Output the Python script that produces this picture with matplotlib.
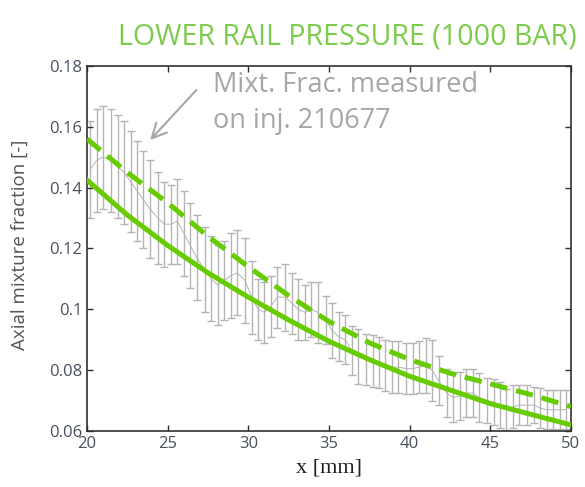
import numpy as np
import matplotlib.pyplot as plt

# Measured mixture fraction (mean and half-width of error bar)
x_meas = [20.2, 20.6, 21.0, 21.5, 21.9, 22.3, 22.7, 23.1, 23.5, 23.9,
          24.4, 24.8, 25.2, 25.6, 26.0, 26.4, 26.8, 27.3, 27.7, 28.1,
          28.5, 28.9, 29.3, 29.8, 30.2, 30.6, 31.0, 31.4, 31.8, 32.3,
          32.7, 33.1, 33.5, 33.9, 34.3, 34.8, 35.2, 35.6, 36.0, 36.4,
          36.8, 37.3, 37.7, 38.1, 38.5, 38.9, 39.3, 39.8, 40.2, 40.6,
          41.0, 41.4, 41.8, 42.3, 42.7, 43.1, 43.5, 43.9, 44.3, 44.8,
          45.2, 45.6, 46.0, 46.4, 46.8, 47.3, 47.7, 48.1, 48.5, 48.9,
          49.3, 49.7]
mean_meas = [0.146, 0.149, 0.150, 0.149, 0.147, 0.145, 0.142, 0.139, 0.136, 0.133,
             0.130, 0.128, 0.128, 0.129, 0.125, 0.121, 0.117, 0.113, 0.110, 0.108,
             0.1095, 0.111, 0.112, 0.1095, 0.104, 0.100, 0.099, 0.101, 0.104, 0.104,
             0.102, 0.100, 0.099, 0.100, 0.099, 0.0965, 0.093, 0.091, 0.090, 0.0865,
             0.0845, 0.0835, 0.083, 0.0825, 0.0815, 0.081, 0.081, 0.0805, 0.0805, 0.081,
             0.0815, 0.080, 0.0765, 0.0725, 0.071, 0.0715, 0.0725, 0.0725, 0.071, 0.070,
             0.0695, 0.0685, 0.067, 0.068, 0.0685, 0.0685, 0.0685, 0.0675, 0.067, 0.067,
             0.067, 0.067]
err_meas = [0.016, 0.017, 0.017, 0.017, 0.017, 0.017, 0.0165, 0.0165, 0.016, 0.016,
            0.015, 0.014, 0.013, 0.014, 0.014, 0.014, 0.014, 0.014, 0.014, 0.013,
            0.013, 0.014, 0.014, 0.014, 0.012, 0.010, 0.010, 0.010, 0.010, 0.011,
            0.010, 0.010, 0.009, 0.009, 0.010, 0.008, 0.009, 0.008, 0.008, 0.008,
            0.009, 0.0085, 0.0085, 0.0085, 0.0085, 0.0085, 0.0085, 0.0085, 0.0085, 0.0085,
            0.009, 0.010, 0.008, 0.008, 0.008, 0.008, 0.008, 0.008, 0.008, 0.0075,
            0.0075, 0.0075, 0.0068, 0.007, 0.0065, 0.0065, 0.006, 0.0065, 0.0065, 0.0065,
            0.0065, 0.0065]

# Simulation curves
x_sim = [20, 22.5, 25, 27.5, 30, 32.5, 35, 37.5, 40, 42.5, 45, 47.5, 50]
sim_solid = [0.1425, 0.131, 0.121, 0.112, 0.104, 0.0965, 0.0895, 0.0835, 0.078, 0.0735, 0.069, 0.0655, 0.062]
sim_dashed = [0.156, 0.145, 0.135, 0.124, 0.114, 0.1045, 0.096, 0.089, 0.0835, 0.079, 0.0755, 0.072, 0.068]

green = "#66cc00"

fig = plt.figure(figsize=(5.85, 4.87), dpi=100)
ax = fig.add_axes([0.1487, 0.115, 0.8273, 0.7495])

ax.errorbar(x_meas, mean_meas, yerr=err_meas, color="#b4b4b4", lw=0.7,
            elinewidth=1.0, capsize=3, capthick=1.0, zorder=1)
ax.plot(x_sim, sim_solid, color=green, lw=3.6, zorder=3)
ax.plot(x_sim, sim_dashed, color=green, lw=3.6, linestyle=(0, (3.5, 1.8)), zorder=3)

ax.set_xlim(20, 50)
ax.set_ylim(0.06, 0.18)
ax.set_xticks([20, 25, 30, 35, 40, 45, 50])
ax.set_yticks([0.06, 0.08, 0.1, 0.12, 0.14, 0.16, 0.18])
ax.set_yticklabels(["0.06", "0.08", "0.1", "0.12", "0.14", "0.16", "0.18"])
ax.tick_params(direction="in", top=True, right=True, length=4, width=1,
               colors="#303030", labelcolor="#4a5060")
for lab in ax.get_xticklabels() + ax.get_yticklabels():
    lab.set_fontfamily("Open Sans")
    lab.set_fontsize(12)
for s in ax.spines.values():
    s.set_color("#303030")
    s.set_linewidth(1.2)

ax.set_xlabel("x [mm]", fontsize=16, fontfamily="Liberation Serif", color="#202020", labelpad=5)
ax.set_ylabel("Axial mixture fraction [-]", fontsize=13.5, fontfamily="Open Sans",
              color="#555555")
ax.yaxis.set_label_coords(-0.12, 0.51)

fig.text(0.593, 0.925, "LOWER RAIL PRESSURE (1000 BAR)", ha="center", va="center",
         fontsize=20.6, color="#7ccc4c", fontfamily="Open Sans")

ax.text(27.8, 0.1785, "Mixt. Frac. measured\non inj. 210677", ha="left", va="top",
        fontsize=19.5, color="#a6a6a6", fontfamily="Open Sans", linespacing=1.38)
ax.annotate("", xy=(23.8, 0.155), xytext=(26.9, 0.1728),
            arrowprops=dict(arrowstyle="->", color="#a6a6a6", lw=1.5, mutation_scale=26))

plt.savefig("out.png", dpi=100)
